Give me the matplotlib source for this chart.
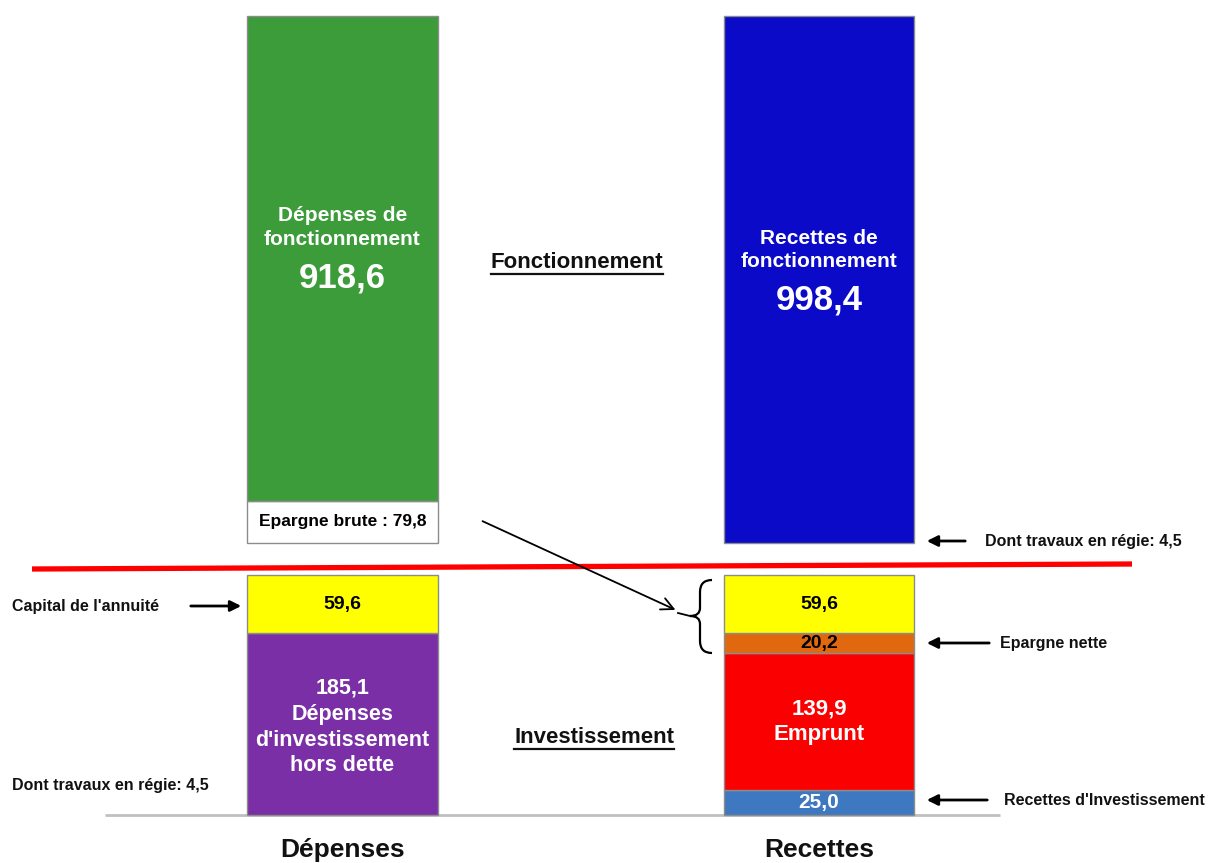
import matplotlib.pyplot as plt
from matplotlib.path import Path
from matplotlib.patches import PathPatch

W, H = 1227, 863

categories = ["Dépenses", "Recettes"]

# Fonctionnement (du bas vers le haut)
fonct_dep = [79.8, 918.6]
fonct_dep_colors = ["#ffffff", "#3c9c3a"]
fonct_rec = [998.4]
fonct_rec_colors = ["#0a0ac8"]

# Investissement (du bas vers le haut)
invest_dep = [185.1, 59.6]
invest_dep_colors = ["#7a2fa6", "#ffff00"]
invest_rec = [25.0, 139.9, 20.2, 59.6]
invest_rec_colors = ["#3d78c0", "#fb0000", "#e0680e", "#ffff00"]

plt.rcParams["font.family"] = ["Liberation Sans Narrow", "Liberation Sans", "DejaVu Sans"]

fig = plt.figure(figsize=(W / 100, H / 100), dpi=100)

# axes placed so that bars land where they are in the original picture
xlim = (-342.5 / 476.5, (W - 342.5) / 476.5)
ax_top = fig.add_axes([0, 1 - 543 / H, 1, (543 - 16) / H])
ax_bot = fig.add_axes([0, 1 - 815 / H, 1, (815 - 575) / H])
for ax in (ax_top, ax_bot):
    ax.set_xlim(*xlim)
    ax.axis("off")
ax_top.set_ylim(0, sum(fonct_rec))
ax_bot.set_ylim(0, sum(invest_dep))

width = 0.4


def stack(ax, x, values, colors):
    bottom = 0
    mids = []
    for v, c in zip(values, colors):
        ax.bar(x, v, width=width, bottom=bottom, color=c, edgecolor="#8c8c8c",
               linewidth=1, clip_on=False, zorder=2)
        mids.append(bottom + v / 2)
        bottom += v
    return mids


mid_fd = stack(ax_top, 0, fonct_dep, fonct_dep_colors)
stack(ax_top, 1, fonct_rec, fonct_rec_colors)
mid_dep = stack(ax_bot, 0, invest_dep, invest_dep_colors)
mid_rec = stack(ax_bot, 1, invest_rec, invest_rec_colors)


def fmt(v):
    return f"{v:.1f}".replace(".", ",")


# labels inside the bars
ax_top.text(0, 598, "Dépenses de\nfonctionnement", color="white",
            ha="center", va="center", fontsize=15, fontweight="bold", linespacing=1.3)
ax_top.text(0, 502, fmt(fonct_dep[1]), color="white",
            ha="center", va="center", fontsize=25, fontweight="bold")
ax_top.text(0, mid_fd[0], "Epargne brute : " + fmt(fonct_dep[0]),
            color="black", ha="center", va="center", fontsize=12.5, fontweight="bold")
ax_top.text(1, 555, "Recettes de\nfonctionnement", color="white",
            ha="center", va="center", fontsize=15, fontweight="bold", linespacing=1.3)
ax_top.text(1, 460, fmt(fonct_rec[0]), color="white",
            ha="center", va="center", fontsize=25, fontweight="bold")

ax_bot.text(0, mid_dep[0] - 3, fmt(invest_dep[0]) + "\nDépenses\nd'investissement\nhors dette",
            color="white", ha="center", va="center", fontsize=15.5, fontweight="bold",
            linespacing=1.3)
ax_bot.text(0, mid_dep[1], fmt(invest_dep[1]), color="black", ha="center", va="center",
            fontsize=14, fontweight="bold")
ax_bot.text(1, mid_rec[0], fmt(invest_rec[0]), color="white", ha="center", va="center",
            fontsize=15, fontweight="bold")
ax_bot.text(1, mid_rec[1], fmt(invest_rec[1]) + "\nEmprunt", color="white", ha="center",
            va="center", fontsize=16, fontweight="bold", linespacing=1.3)
ax_bot.text(1, mid_rec[2], fmt(invest_rec[2]), color="black", ha="center", va="center",
            fontsize=14, fontweight="bold")
ax_bot.text(1, mid_rec[3], fmt(invest_rec[3]), color="black", ha="center", va="center",
            fontsize=14, fontweight="bold")

# baseline and category labels
ax_bot.hlines(0, -0.498, 1.380, color="#c0c0c0", linewidth=2, zorder=1, clip_on=False)
for i, cat in enumerate(categories):
    ax_bot.annotate(cat, xy=(i, 0), xytext=(0, -35), textcoords="offset pixels",
                    ha="center", va="center", fontsize=19, fontweight="bold",
                    color="#111111", annotation_clip=False)

# overlay in pixel coordinates for the annotations
ov = fig.add_axes([0, 0, 1, 1], zorder=5)
ov.set_xlim(0, W)
ov.set_ylim(H, 0)
ov.axis("off")

ov.plot([32, 1132], [569, 564], color="#ff0000", linewidth=3.8, solid_capstyle="butt")


def underlined(x, y, s):
    t = ov.text(x, y, s, ha="center", va="center", fontsize=16, fontweight="bold",
                color="#111111")
    fig.canvas.draw()
    bb = t.get_window_extent().transformed(ov.transData.inverted())
    ov.plot([bb.x0, bb.x1], [bb.y0 + 1, bb.y0 + 1], color="#111111", linewidth=1.6)


underlined(577, 262, "Fonctionnement")
underlined(594, 737, "Investissement")

note = dict(fontsize=11.5, fontweight="bold", color="#111111", va="center")
arrow = dict(arrowstyle="-|>", color="black", lw=2, mutation_scale=16)

ov.text(12, 606, "Capital de l'annuité", ha="left", **note)
ov.annotate("", xy=(244, 606), xytext=(188, 606), arrowprops=arrow)

ov.text(12, 785, "Dont travaux en régie: 4,5", ha="left", **note)

ov.text(985, 541, "Dont travaux en régie: 4,5", ha="left", **note)
ov.annotate("", xy=(924, 541), xytext=(968, 541), arrowprops=arrow)

ov.text(1000, 643, "Epargne nette", ha="left", **note)
ov.annotate("", xy=(924, 643), xytext=(992, 643), arrowprops=arrow)

ov.text(1004, 800, "Recettes d'Investissement", ha="left", **note)
ov.annotate("", xy=(924, 800), xytext=(990, 800), arrowprops=arrow)

# diagonal arrow from épargne brute to the brace
ov.annotate("", xy=(678, 611), xytext=(480, 520),
            arrowprops=dict(arrowstyle="->", color="black", lw=1.3, mutation_scale=22))
ov.plot([678, 690], [613, 616], color="black", linewidth=1.3)

# brace
verts = [(712, 580), (700, 580), (700, 592), (700, 608), (700, 616), (690, 616),
         (700, 616), (700, 624), (700, 641), (700, 653), (712, 653)]
codes = [Path.MOVETO, Path.CURVE3, Path.CURVE3, Path.LINETO, Path.CURVE3, Path.CURVE3,
         Path.CURVE3, Path.CURVE3, Path.LINETO, Path.CURVE3, Path.CURVE3]
ov.add_patch(PathPatch(Path(verts, codes), facecolor="none", edgecolor="black", lw=1.6))

fig.savefig("out.png", dpi=100)
